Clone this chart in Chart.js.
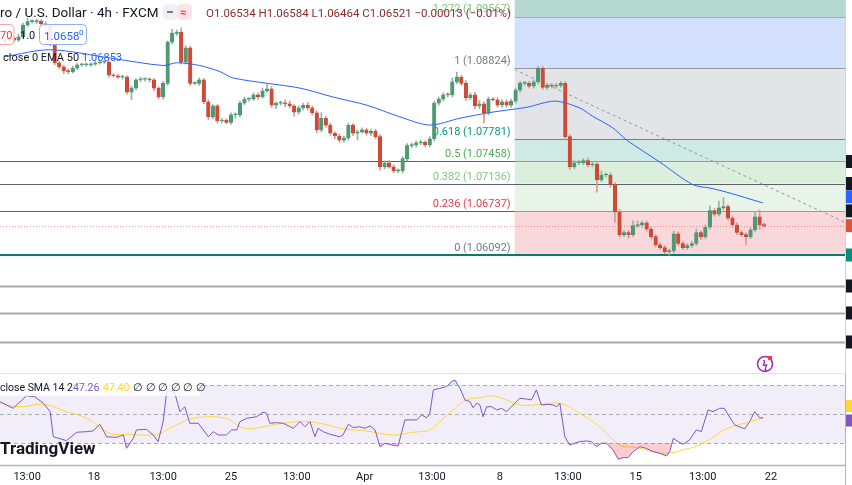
<!DOCTYPE html><html><head><meta charset="utf-8">
<script src="https://cdn.jsdelivr.net/npm/chart.js@4"></script>
<style>html,body{margin:0;padding:0;background:#fff;overflow:hidden}
.p{position:absolute;left:0;width:852px}</style></head><body>
<div style="position:relative;width:852px;height:485px">
<div class="p" style="top:0;height:374px"><canvas id="c1"></canvas></div>
<div class="p" style="top:374px;height:111px"><canvas id="c2"></canvas></div>
</div>
<script>
// ---- data ----
const firstOpen = 1.0920;
const closes = [
1.0923,1.0926,1.0923,1.0928,1.0945,1.0950,1.0950,1.0951,1.0947,1.0944,
1.0919,1.0890,1.0884,1.0878,1.0877,1.0882,1.0887,1.0887,1.0887,1.0888,
1.0890,1.0891,1.0891,1.0872,1.0871,1.0869,1.0869,1.0847,1.0853,1.0865,
1.0866,1.0866,1.0865,1.0853,1.0840,1.0860,1.0920,1.0933,1.0935,1.0891,
1.0912,1.0860,1.0860,1.0865,1.0833,1.0811,1.0827,1.0805,1.0806,1.0803,
1.0814,1.0814,1.0831,1.0837,1.0837,1.0843,1.0840,1.0849,1.0852,1.0828,
1.0831,1.0831,1.0830,1.0827,1.0818,1.0824,1.0828,1.0824,1.0817,1.0792,
1.0809,1.0799,1.0787,1.0783,1.0777,1.0780,1.0799,1.0787,1.0789,1.0792,
1.0787,1.0790,1.0782,1.0738,1.0744,1.0738,1.0732,1.0732,1.0750,1.0769,
1.0770,1.0773,1.0774,1.0770,1.0779,1.0831,1.0837,1.0843,1.0843,1.0862,
1.0869,1.0860,1.0839,1.0843,1.0827,1.0830,1.0817,1.0837,1.0836,1.0828,
1.0833,1.0828,1.0834,1.0850,1.0860,1.0860,1.0856,1.0862,1.0882,1.0854,
1.0857,1.0856,1.0857,1.0860,1.0782,1.0738,1.0744,1.0744,1.0747,1.0741,
1.0742,1.0719,1.0726,1.0726,1.0712,1.0672,1.0639,1.0642,1.0639,1.0652,
1.0653,1.0656,1.0647,1.0636,1.0624,1.0620,1.0614,1.0615,1.0640,1.0626,
1.0620,1.0623,1.0626,1.0642,1.0636,1.0650,1.0674,1.0669,1.0678,1.0680,
1.0663,1.0653,1.0642,1.0639,1.0636,1.0646,1.0665,1.0653,1.06521];
// wick sizes in pips (0.0001) above / below the body
const upWickPips = [
3,3,2,4,3,5,3,3,2,3, 2,3,2,2,3,3,2,2,3,2, 2,3,2,2,2,2,3,2,3,2, 3,2,2,2,2,3,2,6,3,6,
3,2,2,3,2,3,2,2,3,2, 3,3,3,3,2,3,3,4,7,3, 2,3,5,4,2,3,3,4,3,3, 8,3,3,2,3,3,3,2,3,3,
2,3,3,3,3,3,3,3,3,3, 3,3,3,2,3,3,3,3,3,6, 7,3,4,3,4,5,3,3,2,3, 3,3,3,3,3,3,3,3,3,3,
3,3,3,3,3,3,3,3,3,4, 3,4,6,3,3,3,4,3,3,7, 6,3,3,3,3,3,3,3,4,3, 3,3,3,5,3,3,7,3,10,13,
3,3,3,3,3,3,8,10,3];
const downWickPips = [
3,2,3,2,2,2,2,3,2,2, 4,3,3,4,3,2,2,2,2,2, 2,2,2,3,2,2,3,3,11,3, 3,3,3,4,3,3,3,3,3,3,
3,3,2,3,3,4,3,3,3,2, 3,5,3,2,3,2,3,2,2,3, 5,3,4,3,6,3,3,3,3,4, 3,3,3,4,3,3,3,3,10,2,
3,3,3,5,3,2,3,3,3,3, 3,3,3,3,3,3,3,3,3,3, 3,3,4,3,4,4,15,3,2,3, 3,3,3,3,3,3,3,3,3,3,
3,3,3,3,5,4,3,3,3,3, 3,18,3,3,4,15,3,3,5,3, 3,3,3,3,3,3,3,5,3,3, 3,3,3,3,4,3,3,3,3,3,
3,3,3,3,12,3,3,6,3];
const emaIdx   = [0,10,23.2,35,38,43.1,47.6,50.4,58,65.3,72.6,80.1,87.4,94,100.7,108,115.5,121.7,127.2,130,134.5,137.6,144.9,152.2,156,159.7,167.7];
const emaVal   = [1.0899,1.0909,1.0897,1.0886,1.0890,1.0886,1.0877,1.0868,1.0860,1.0853,1.0840,1.0828,1.0811,1.0799,1.0809,1.0818,1.0825,1.0834,1.0824,1.0812,1.0795,1.0777,1.0745,1.0712,1.0707,1.0701,1.06853];
const rsiIdx = [-1.1,1.8,4.8,6.6,8.5,10,10.7,13.6,15.9,18.1,19.5,21,22.5,24.7,26.2,26.9,28.4,29.1,31.3,32.8,33.9,35,35.8,36.5,37.6,38.7,39.8,40.9,42.8,43.9,45,46.1,47.2,49,50.2,51.3,52,53.5,55.7,57.1,57.9,58.6,60.1,61.6,63.1,63.8,65.3,66.4,67.5,68.6,69.3,70.4,71.9,74.1,74.8,76,77.1,78.5,79.6,80.8,81.9,83,84.1,85.6,87,88.5,89.6,91.1,92.2,93.3,94,94.8,96.2,97.7,98.8,99.6,100.7,101.8,102.9,103.6,104.4,105.1,105.8,106.6,107.7,108.8,109.9,111,112.1,113.9,115.4,116.5,117.6,118.7,120.2,121.3,122.1,122.8,123.9,125,126.1,127.2,128.7,129.8,130.9,132,133.1,134.6,135.7,136.8,137.9,139,140.5,141.9,143.4,144.9,146.4,147.1,147.9,149,150.1,151.5,153,154.1,155.6,156.7,158.1,159.2,160.3,161.5,163.7,164.8,165.9,167,167.8];
const rsiVal = [58.5,53.9,62.6,61.9,57.4,51.6,34.3,31.6,37.4,37.8,38.3,42.9,34.3,33.9,35.5,26.3,33.2,39,39.4,35.5,30.9,44.7,65.4,66.1,64.3,51.6,55,43.6,43.6,39,34.3,37.8,35.5,35.5,39,39,44.7,47,48.1,51.2,50.5,43.6,44,43.6,41.2,40.1,44.7,41.2,44.7,34.3,40.1,37.8,36,34.3,35.5,42.9,40.6,41.2,40.1,41.7,39,27.4,29.8,28.6,27.9,45.9,45.9,45.9,49.3,47.4,49.8,66.6,67.7,68.8,72.3,73.4,67.7,59.7,58.5,54.3,57.4,56.2,48.1,55,55,52.8,53.9,51.6,55,60.8,60.3,59.7,66.6,56.2,56.7,56.2,55,57.4,34.3,28.6,29.8,30.9,31.4,30.9,27.4,29.8,29.8,25.2,18.8,19.9,19.9,24,27.4,26.3,24,22.9,21,24,33.2,30.9,29.1,32.1,39,37.8,52.8,51.6,53.9,53.9,48.1,42.4,39.7,44.7,51.6,47.4,47.26];
const smaIdx = [-1.1,3.3,8.5,13.6,18.1,23.2,26.9,33.6,37.2,41.7,49,52,54.9,60.1,65.3,69.7,74.8,80,85.9,90.3,91.8,94,96.2,99.2,102.1,105.1,107.7,111,113.9,119.1,122.8,127.2,131.6,136.1,139.8,143.4,146.4,150.1,154.5,159.2,162.2,165,167.8];
const smaVal = [57.4,55,56.7,51.6,47,36.7,36,36,41.2,47,47,41.2,40.1,42.9,44.7,43.6,39.7,38.3,35.5,37.4,37.8,39,44.7,52.8,59.7,61.2,62.6,59.7,56.2,56.7,57.4,50.5,41.2,28.6,26.8,24,22.9,25.2,29.8,39,42.4,44.7,47.4];
const fibStartIdx = 112.8;
const fibLevels = [0,0.236,0.382,0.5,0.618,1,1.272,1.618];
const fibPrices = [1.06092,1.06737,1.07136,1.07458,1.07781,1.08824,1.09567,1.10512];
const hLinePrices = [1.07458,1.07136,1.06737,1.05639,1.05245,1.04821];
const lastPrice = 1.06521, emaLast = 1.06853;
const trendIdx = [112.8,185.9], trendVal = [1.0880,1.0657];
const tickIdx = [4.9,19.7,35,50,64.6,79.6,94.5,109.5,124.6,139.6,154.4,169.5];
const tickLabels = ['13:00','18','13:00','25','13:00','Apr','13:00','8','13:00','15','13:00','22'];
const rsiLevels = [70,50,30];

// ---- derived ----
const opens = closes.map((c,i)=> i===0 ? firstOpen : closes[i-1]);
const highs = closes.map((c,i)=> Math.max(c,opens[i]) + upWickPips[i]*0.0001);
const lows  = closes.map((c,i)=> Math.min(c,opens[i]) - downWickPips[i]*0.0001);
const UP='#4f9a73', DN='#d24a36', UPW='#4a8f6b', DNW='#b8483a';
const FONT='Roboto, "Noto Sans", sans-serif';
const xMin=-1.1, xMax=185.9;

const zoneColors=['#f9d7da','#e8f4e8','#dcefdc','#cfeae4','#e3e4e7','#d2e0fd','#b5d9d1'];
const fibLineColors=['#0f7a6a','#f0737c',null,'#66bb6a','#26a69a','#9598a1','#81c784','#26a69a'];
const fibTextColors=['#787b86','#f23645','#81c784','#4caf50','#089981','#787b86','#81c784','#26a69a'];

function hline(ctx,x0,x1,y,color,w,dash){ctx.save();ctx.strokeStyle=color;ctx.lineWidth=w;ctx.setLineDash(dash||[]);ctx.beginPath();ctx.moveTo(x0,y);ctx.lineTo(x1,y);ctx.stroke();ctx.restore();}

const mainPlugin={id:'mainOv',
 beforeDatasetsDraw(ch){
  const ctx=ch.ctx, x=ch.scales.x, y=ch.scales.y, a=ch.chartArea;
  const xs=x.getPixelForValue(fibStartIdx), xe=a.right;
  for(let i=0;i<fibPrices.length-1;i++){
    const y0=y.getPixelForValue(fibPrices[i]), y1=y.getPixelForValue(fibPrices[i+1]);
    ctx.fillStyle=zoneColors[i]; ctx.fillRect(xs,y1,xe-xs,y0-y1);
  }
  hLinePrices.forEach((p,i)=>hline(ctx,a.left,a.right,Math.round(y.getPixelForValue(p))+0.5,i<3?'#5d606b':'#a8a9ad',i<3?1:2));
  hline(ctx,a.left,a.right,y.getPixelForValue(fibPrices[0]),'#0f7a6a',2);
  hline(ctx,a.left,a.right,Math.round(y.getPixelForValue(lastPrice))+0.5,'rgba(242,54,69,0.45)',1,[1,2]);
  fibPrices.forEach((p,i)=>{ if(i>0 && fibLineColors[i]) hline(ctx,xs,xe,Math.round(y.getPixelForValue(p))+0.5,fibLineColors[i],1);});
  ctx.save();ctx.font='11px '+FONT;ctx.textAlign='right';ctx.textBaseline='alphabetic';
  fibLevels.forEach((l,i)=>{ if(l>1.1) return; const py=y.getPixelForValue(fibPrices[i]);
    ctx.fillStyle=fibTextColors[i]; ctx.fillText(l+' ('+fibPrices[i].toFixed(5)+')',xs-4,py-4);});
  ctx.fillStyle=fibTextColors[6];ctx.fillText(fibLevels[6]+' ('+fibPrices[6].toFixed(5)+')',xs-4,12);
  ctx.restore();
 },
 afterDatasetsDraw(ch){
  const ctx=ch.ctx, y=ch.scales.y, a=ch.chartArea;
  ctx.fillStyle='#fff';ctx.fillRect(a.right,0,852-a.right,ch.height);
  hline(ctx,a.left,a.right,ch.height-0.5,'#e0e3eb',1);
  ctx.strokeStyle='#d1d4dc';ctx.lineWidth=1;ctx.beginPath();ctx.moveTo(a.right+0.5,0);ctx.lineTo(a.right+0.5,ch.height);ctx.stroke();
  const tags=[[1.07458,'#131722'],[1.07136,'#131722'],[emaLast+0.0009,'#2962ff'],[1.06737,'#131722'],[lastPrice,'#d9553f'],[fibPrices[0],'#0a8d78'],[1.05639,'#131722'],[1.05245,'#131722'],[1.04821,'#131722']];
  tags.forEach(t=>{const py=y.getPixelForValue(t[0]);ctx.fillStyle=t[1];ctx.fillRect(a.right+1,py-6.5,8,13);});
  ctx.save();ctx.textBaseline='alphabetic';
  ctx.font='13.5px '+FONT;ctx.fillStyle='#131722';ctx.fillText('ro / U.S. Dollar · 4h · FXCM',0,17);
  ctx.fillStyle='#eef0f3';ctx.beginPath();ctx.roundRect(163,4,14,16,4);ctx.fill();
  ctx.fillStyle='#fde4e6';ctx.beginPath();ctx.roundRect(177,4,15,16,4);ctx.fill();
  ctx.fillStyle='#787b86';ctx.fillRect(167,11,6,2);
  ctx.font='bold 11px '+FONT;ctx.fillStyle='#f23645';ctx.fillText('≈',180,16);
  ctx.font='11.5px '+FONT;ctx.fillStyle='#8b2c2c';
  ctx.fillText('O1.06534 H1.06584 L1.06464 C1.06521 −0.00013 (−0.01%)',206,17);
  ctx.lineWidth=1;ctx.strokeStyle='#f7a1a8';ctx.fillStyle='rgba(255,255,255,0.9)';
  ctx.beginPath();ctx.roundRect(-6,24.5,20,20,4);ctx.fill();ctx.stroke();
  ctx.fillStyle='#f23645';ctx.font='11px '+FONT;ctx.fillText('70',0,39);
  ctx.fillStyle='#131722';ctx.fillText('1.0',20,39);
  ctx.strokeStyle='#8fb0ff';ctx.fillStyle='rgba(255,255,255,0.9)';ctx.beginPath();ctx.roundRect(39.5,24.5,47,20,4);ctx.fill();ctx.stroke();
  ctx.fillStyle='#2962ff';ctx.font='11.5px '+FONT;ctx.fillText('1.0658',44,40);ctx.font='8px '+FONT;ctx.fillText('0',79,35);
  ctx.font='11px '+FONT;ctx.fillStyle='#131722';ctx.fillText('close 0 EMA 50',3,61);
  ctx.fillStyle='#2962ff';ctx.fillText('1.06853',82,61);
  ctx.strokeStyle='#9c27b0';ctx.lineWidth=1.5;ctx.beginPath();ctx.arc(765,364,7.5,0,Math.PI*2);ctx.stroke();
  ctx.fillStyle='#9c27b0';ctx.font='bold 10px '+FONT;ctx.textAlign='center';ctx.fillText('ϟ',765,368);
  ctx.fillStyle='#f23645';ctx.beginPath();ctx.arc(770,358,2.3,0,Math.PI*2);ctx.fill();
  ctx.restore();
 }};

new Chart(document.getElementById('c1'),{
 type:'bar',
 data:{datasets:[
  {type:'line',data:emaIdx.map((v,i)=>({x:v,y:emaVal[i]})),borderColor:'#2962ff',borderWidth:1,pointRadius:0,tension:0.3,order:0},
  {type:'line',data:trendIdx.map((v,i)=>({x:v,y:trendVal[i]})),borderColor:'#9598a1',borderWidth:1,borderDash:[3,3],pointRadius:0,order:3},
  {data:closes.map((c,i)=>({x:i,y:[opens[i],c]})),backgroundColor:closes.map((c,i)=>c>=opens[i]?UP:DN),borderColor:closes.map((c,i)=>c>=opens[i]?UPW:DNW),borderWidth:0.5,borderSkipped:false,barThickness:3.5,minBarLength:1,grouped:false,order:1},
  {data:closes.map((c,i)=>({x:i,y:[lows[i],highs[i]]})),backgroundColor:closes.map((c,i)=>c>=opens[i]?'#8fb8a2':'#d79a90'),barThickness:1,grouped:false,order:2}
 ]},
 options:{responsive:true,maintainAspectRatio:false,animation:false,
  layout:{padding:{left:0,right:7,top:0,bottom:1}},
  plugins:{legend:{display:false},tooltip:{enabled:false}},
  scales:{x:{type:'linear',min:xMin,max:xMax,offset:false,display:false},
          y:{min:1.04368,max:1.09817,display:false}}},
 plugins:[mainPlugin]});

const rsiPlugin={id:'rsiOv',
 beforeDatasetsDraw(ch){
  const ctx=ch.ctx,y=ch.scales.y,a=ch.chartArea;
  const y70=y.getPixelForValue(70),y30=y.getPixelForValue(30);
  ctx.fillStyle='rgba(126,87,194,0.1)';ctx.fillRect(a.left,y70,a.right-a.left,y30-y70);
  rsiLevels.forEach(l=>hline(ctx,a.left,a.right,Math.round(y.getPixelForValue(l))+0.5,'#a9acb5',1,[4,3]));
 },
 afterDatasetsDraw(ch){
  const ctx=ch.ctx,x=ch.scales.x,y=ch.scales.y,a=ch.chartArea;
  ctx.fillStyle='#fff';ctx.fillRect(a.right,0,852-a.right,ch.height);
  ctx.strokeStyle='#b2b5be';ctx.lineWidth=1;ctx.beginPath();ctx.moveTo(a.right+0.5,0);ctx.lineTo(a.right+0.5,a.bottom+20);ctx.stroke();
  hline(ctx,0,a.right,a.bottom+0.5,'#b2b5be',1.5);
  ctx.fillStyle='#fdd835';ctx.fillRect(a.right+1,y.getPixelForValue(55.5)-6,8,12);
  ctx.fillStyle='#7e57c2';ctx.fillRect(a.right+1,y.getPixelForValue(45.5)-6,8,12);
  ctx.save();
  ctx.fillStyle='rgba(255,255,255,0.8)';ctx.fillRect(0,5,200,17);
  ctx.font='10.5px '+FONT;ctx.textBaseline='alphabetic';
  ctx.fillStyle='#131722';ctx.fillText('close SMA 14 2',0,17);
  ctx.fillStyle='#7e57c2';ctx.fillText('47.26',73,17);
  ctx.fillStyle='#fdd835';ctx.fillText('47.40',103,17);
  ctx.fillStyle='#131722';ctx.fillText('∅ ∅ ∅ ∅ ∅ ∅',133,17);
  ctx.font='bold 17px '+FONT;ctx.fillText('TradingView',0,80);
  ctx.font='11px '+FONT;ctx.textAlign='center';ctx.fillStyle='#131722';
  tickIdx.forEach((t,i)=>ctx.fillText(tickLabels[i],x.getPixelForValue(t),106));
  ctx.restore();
 }};

new Chart(document.getElementById('c2'),{
 type:'line',
 data:{datasets:[
  {data:rsiIdx.map((v,i)=>({x:v,y:rsiVal[i]})),borderColor:'rgba(0,0,0,0)',borderWidth:0,pointRadius:0,fill:{target:{value:70},above:'rgba(8,153,129,0.2)',below:'rgba(0,0,0,0)'}},
  {data:rsiIdx.map((v,i)=>({x:v,y:rsiVal[i]})),borderColor:'#7e57c2',borderWidth:1,pointRadius:0,fill:{target:{value:30},above:'rgba(0,0,0,0)',below:'rgba(242,54,69,0.25)'}},
  {data:smaIdx.map((v,i)=>({x:v,y:smaVal[i]})),borderColor:'#fdd835',borderWidth:1,pointRadius:0,tension:0.4}
 ]},
 options:{responsive:true,maintainAspectRatio:false,animation:false,
  layout:{padding:{left:0,right:7,top:2,bottom:20}},
  plugins:{legend:{display:false},tooltip:{enabled:false}},
  scales:{x:{type:'linear',min:xMin,max:xMax,display:false},y:{min:14.8,max:76.2,display:false}}},
 plugins:[rsiPlugin]});
</script></body></html>
